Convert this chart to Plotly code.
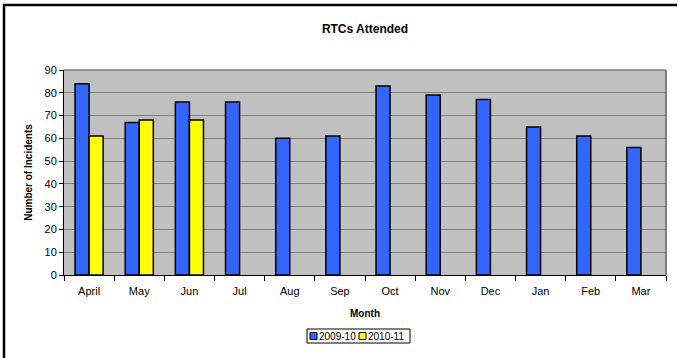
import plotly.graph_objects as go

months = ["April", "May", "Jun", "Jul", "Aug", "Sep", "Oct", "Nov", "Dec", "Jan", "Feb", "Mar"]
season_2009_10 = [84, 67, 76, 76, 60, 61, 83, 79, 77, 65, 61, 56]
season_2010_11 = [61, 68, 68]
y_ticks = list(range(0, 91, 10))

series = [
    ("2009-10", season_2009_10, "#3366FF"),
    ("2010-11", season_2010_11, "#FFFF00"),
]

W, H = 678, 358
L, R, T, B = 64, 12, 70, 83
pw, ph = W - L - R, H - T - B

font = "Liberation Sans, Arial, sans-serif"


def px_x(x):
    return (x - L) / pw


def px_y(y):
    return (H - B - y) / ph


fig = go.Figure()
for name, values, color in series:
    fig.add_trace(go.Bar(
        x=months[:len(values)], y=values, name=name,
        marker=dict(color=color, line=dict(color="#000000", width=1.5)),
        showlegend=False,
    ))

shapes = [
    # outer chart frame (left and top edges), drawn as one open path
    dict(type="path", xref="paper", yref="paper",
         path=f"M {px_x(4)},{px_y(H)} L {px_x(4)},{px_y(5)} L {px_x(W - 1)},{px_y(5)}",
         line=dict(color="#000000", width=2.5)),
    # plot area frame (top/right)
    dict(type="line", xref="paper", yref="paper", x0=0, x1=1, y0=1, y1=1,
         line=dict(color="#808080", width=1.5)),
    dict(type="line", xref="paper", yref="paper", x0=1, x1=1, y0=0, y1=1,
         line=dict(color="#808080", width=2)),
    # legend box
    dict(type="rect", xref="paper", yref="paper",
         x0=px_x(307), x1=px_x(410), y0=px_y(343), y1=px_y(329),
         line=dict(color="#000000", width=1), fillcolor="#FFFFFF"),
]

annotations = []
legend_x = [310, 359]
for (name, values, color), lx in zip(series, legend_x):
    shapes.append(dict(type="rect", xref="paper", yref="paper",
                       x0=px_x(lx), x1=px_x(lx + 7), y0=px_y(339.5), y1=px_y(332.5),
                       line=dict(color="#000000", width=1), fillcolor=color))
    annotations.append(dict(text=name, xref="paper", yref="paper",
                            x=px_x(lx + 8), y=px_y(336), xanchor="left", yanchor="middle",
                            xshift=-1, showarrow=False,
                            font=dict(family=font, size=10, color="#000000")))

fig.update_layout(
    width=W, height=H,
    margin=dict(l=L, r=R, t=T, b=B),
    paper_bgcolor="#FFFFFF",
    plot_bgcolor="#C0C0C0",
    barmode="group",
    bargap=0.44,
    bargroupgap=0,
    showlegend=False,
    font=dict(family=font, size=11, color="#000000"),
    title=dict(text="<b>RTCs Attended</b>", x=0.5, xref="paper", xanchor="center",
               y=1 - 29 / H, yref="container", yanchor="middle",
               font=dict(family=font, size=12, color="#000000")),
    xaxis=dict(
        title=dict(text="<b>Month</b>", font=dict(family=font, size=10), standoff=13),
        categoryorder="array", categoryarray=months,
        tickson="boundaries", ticks="outside", ticklen=5, tickcolor="#000000",
        ticklabelstandoff=6,
        showline=True, linecolor="#000000", linewidth=1,
        showgrid=False, tickfont=dict(size=11),
    ),
    yaxis=dict(
        title=dict(text="<b>Number of Incidents</b>", font=dict(family=font, size=10), standoff=10),
        range=[0, 90], tickvals=y_ticks,
        ticks="outside", ticklen=4, tickcolor="#000000",
        showline=True, linecolor="#000000", linewidth=1,
        showgrid=True, gridcolor="#808080", gridwidth=1,
        zeroline=False, tickfont=dict(size=11),
    ),
    shapes=shapes,
    annotations=annotations,
)

fig.write_html(
    "out.html",
    config={"displayModeBar": False},
    post_script="document.body.style.margin='0';document.body.style.overflow='hidden';",
)
